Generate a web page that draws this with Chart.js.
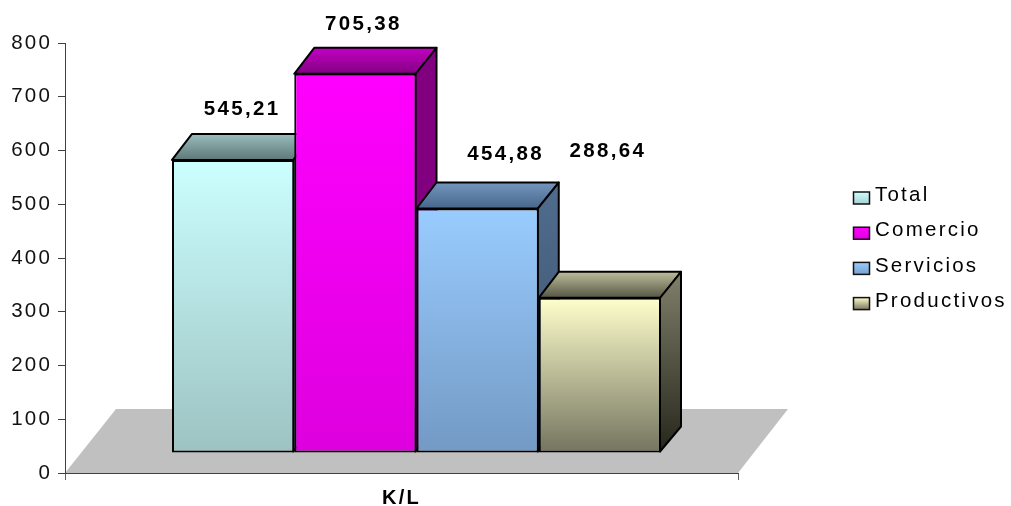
<!DOCTYPE html>
<html>
<head>
<meta charset="utf-8">
<style>html,body{margin:0;padding:0;background:#fff}canvas{display:block}</style>
<script src="https://cdn.jsdelivr.net/npm/chart.js@4"></script>
</head>
<body>
<canvas id="c" width="1011" height="506" style="width:1011px;height:506px"></canvas>
<script>
const categories = ['K/L'];
const seriesNames = ['Total', 'Comercio', 'Servicios', 'Productivos'];
const totalValues = [545.21];
const comercioValues = [705.38];
const serviciosValues = [454.88];
const productivosValues = [288.64];
const valueLabels = ['545,21', '705,38', '454,88', '288,64'];
const yTicks = [0, 100, 200, 300, 400, 500, 600, 700, 800];

const seriesValues = [totalValues, comercioValues, serviciosValues, productivosValues];

// styles: [front top, front bottom, roof back, roof front, side top, side bottom]
const faceColors = [
  ['#CCFFFF', '#9DC2C2', '#9ABDBD', '#5E7878', '#5E7878', '#5E7878'],
  ['#FF00FF', '#DE00DE', '#C400C4', '#820082', '#800080', '#800080'],
  ['#99CCFF', '#7399C4', '#7396BE', '#48668A', '#506C8E', '#3A5068'],
  ['#FFFFCC', '#747460', '#BDBD9A', '#565646', '#80806A', '#26261C']
];
const legendStops = [
  ['#CCFFFF', '#A8D0D0'],
  ['#FF00FF', '#E000E0'],
  ['#99CCFF', '#78A0CC'],
  ['#FFFFCC', '#77775F']
];
const labelNudges = [[9, -51], [8, -50], [28, -54.5], [8, -147]];
const FRONT_DX = 15, FRONT_DY = -20, BAR_DX = 20, BAR_DY = -26, FLOOR_DX = 50, FLOOR_DY = -64;
const SPACING = '2.25px';
const FONT = '"Liberation Sans", Arial, sans-serif';

function vGrad(ctx, y0, y1, c0, c1) {
  const g = ctx.createLinearGradient(0, y0, 0, y1);
  g.addColorStop(0, c0);
  g.addColorStop(1, c1);
  return g;
}

function poly(ctx, pts, fill) {
  ctx.beginPath();
  pts.forEach((p, i) => i ? ctx.lineTo(p[0], p[1]) : ctx.moveTo(p[0], p[1]));
  ctx.closePath();
  ctx.fillStyle = fill;
  ctx.fill();
  ctx.lineWidth = 2;
  ctx.strokeStyle = '#000';
  ctx.lineJoin = 'round';
  ctx.stroke();
}

const scene3d = {
  id: 'scene3d',
  beforeInit(chart) { chart.ctx.letterSpacing = SPACING; },
  beforeLayout(chart) { chart.ctx.letterSpacing = SPACING; },
  afterLayout(chart) {
    const lg = chart.legend;
    const w = lg.right - lg.left, h = lg.bottom - lg.top;
    lg.left = 836; lg.right = lg.left + w;
    lg.top = 170.5; lg.bottom = lg.top + h;
  },
  beforeDraw(chart) {
    const ctx = chart.ctx, a = chart.chartArea;
    ctx.letterSpacing = SPACING;
    ctx.save();
    ctx.fillStyle = '#C0C0C0';
    ctx.beginPath();
    ctx.moveTo(a.left, a.bottom);
    ctx.lineTo(a.right, a.bottom);
    ctx.lineTo(a.right + FLOOR_DX, a.bottom + FLOOR_DY);
    ctx.lineTo(a.left + FLOOR_DX + 1, a.bottom + FLOOR_DY);
    ctx.closePath();
    ctx.fill();
    ctx.restore();
  },
  beforeDatasetDraw() { return false; },
  beforeDatasetsDraw(chart) {
    const ctx = chart.ctx;
    seriesNames.forEach((_, i) => {
      const el = chart.getDatasetMeta(i).data[0];
      const c = faceColors[i];
      const x0 = el.x - el.width / 2 + FRONT_DX, x1 = el.x + el.width / 2 + FRONT_DX;
      const top = el.y + FRONT_DY, base = el.base + FRONT_DY;
      ctx.save();
      poly(ctx, [[x0, top], [x0 + BAR_DX, top + BAR_DY], [x1 + BAR_DX, top + BAR_DY], [x1, top]],
        vGrad(ctx, top + BAR_DY, top, c[2], c[3]));
      poly(ctx, [[x1 - 1, top], [x1 + BAR_DX, top + BAR_DY], [x1 + BAR_DX, base + BAR_DY], [x1 - 1, base - 1]],
        vGrad(ctx, top + BAR_DY, base, c[4], c[5]));
      ctx.translate(FRONT_DX, FRONT_DY);
      el.draw(ctx);
      ctx.restore();
    });
  },
  afterDatasetsDraw(chart) {
    const ctx = chart.ctx;
    ctx.save();
    ctx.font = 'bold 20.5px ' + FONT;
    ctx.letterSpacing = '2.3px';
    ctx.fillStyle = '#000';
    ctx.textAlign = 'center';
    ctx.textBaseline = 'middle';
    seriesNames.forEach((_, i) => {
      const el = chart.getDatasetMeta(i).data[0];
      ctx.fillText(valueLabels[i], el.x + FRONT_DX + labelNudges[i][0], el.y + FRONT_DY + labelNudges[i][1]);
    });
    ctx.restore();
  },
  afterDraw(chart) {
    const ctx = chart.ctx, lg = chart.legend;
    const step = lg.options.labels.font.size + lg.options.labels.padding;
    ctx.save();
    seriesNames.forEach((_, i) => {
      const x = 853.5, y = lg.top + 21.5 + i * step;
      const g = ctx.createLinearGradient(0, y, 0, y + 12);
      g.addColorStop(0, legendStops[i][0]);
      g.addColorStop(1, legendStops[i][1]);
      ctx.fillStyle = g;
      ctx.fillRect(x, y, 16, 12);
      ctx.lineWidth = 1.5;
      ctx.strokeStyle = '#111';
      ctx.strokeRect(x, y, 16, 12);
    });
    ctx.restore();
  }
};

function frontFill(i) {
  return function (context) {
    const chart = context.chart, y = chart.scales.y;
    if (!y) return faceColors[i][0];
    const t = y.getPixelForValue(seriesValues[i][0]);
    return vGrad(chart.ctx, t, y.getPixelForValue(0), faceColors[i][0], faceColors[i][1]);
  };
}

new Chart(document.getElementById('c'), {
  type: 'bar',
  data: {
    labels: categories,
    datasets: seriesNames.map((name, i) => ({
      label: name,
      data: seriesValues[i],
      backgroundColor: frontFill(i),
      borderColor: '#000',
      borderWidth: 2,
      borderSkipped: false,
      categoryPercentage: 489 / 673,
      barPercentage: 1
    }))
  },
  options: {
    responsive: false,
    animation: false,
    layout: { padding: { top: 43, right: 273, left: 0, bottom: 0 } },
    plugins: {
      title: { display: false },
      tooltip: { enabled: false },
      legend: {
        display: true,
        position: 'chartArea',
        align: 'start',
        labels: {
          boxWidth: 14,
          boxHeight: 12,
          padding: 14.7,
          color: '#111',
          font: { family: FONT, size: 20.5 },
          generateLabels: () => seriesNames.map((n, i) => ({
            text: n, fillStyle: 'rgba(0,0,0,0)', strokeStyle: 'rgba(0,0,0,0)', lineWidth: 0, datasetIndex: i
          }))
        }
      }
    },
    scales: {
      x: {
        offset: true,
        afterFit(s) { s.height = 33; },
        border: { color: '#404040', width: 1 },
        grid: { display: true, drawOnChartArea: false, drawTicks: true, tickLength: 7, tickColor: '#606060', offset: true },
        ticks: { color: '#000', padding: 6, maxRotation: 0, font: { family: FONT, size: 20, weight: 'bold' } }
      },
      y: {
        min: 0,
        max: 800,
        afterFit(s) { s.width = 65; },
        afterBuildTicks(s) { s.ticks = yTicks.map(v => ({ value: v })); },
        border: { color: '#404040', width: 1 },
        grid: { display: true, drawOnChartArea: false, drawTicks: true, tickLength: 7, tickColor: '#404040' },
        ticks: { color: '#111', padding: 5.9, font: { family: FONT, size: 20.5 } }
      }
    }
  },
  plugins: [scene3d]
});
</script>
</body>
</html>
